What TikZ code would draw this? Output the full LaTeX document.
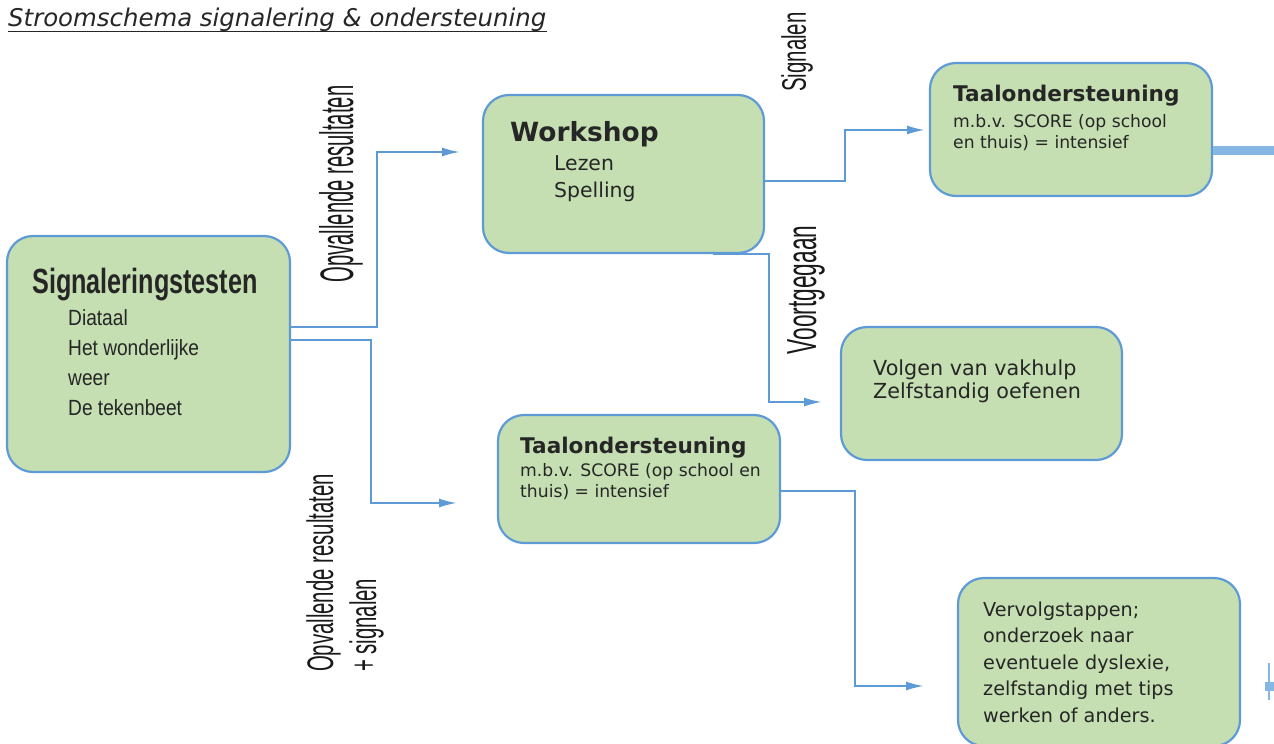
\documentclass[tikz,border=0pt]{standalone}
\usepackage{fontspec}
\usepackage{graphicx}
\setmainfont{DejaVu Sans}
\newfontfamily\myriad{Liberation Sans}
\usetikzlibrary{arrows.meta}

\definecolor{boxfill}{RGB}{197,223,178}
\definecolor{boxline}{RGB}{94,155,214}
\definecolor{stubblue}{RGB}{134,182,226}

\newcommand{\squeeze}[2]{\scalebox{#1}[1]{#2}}

\tikzset{
    box/.style={draw=boxline, line width=2.2pt, fill=boxfill, rounded corners=26pt, inner sep=0pt},
    boxtext/.style={anchor=base west, inner sep=0pt, align=left, text=black!85},
    flow/.style={draw=boxline, line width=2pt, -{Latex[length=18pt,width=9pt]}},
    stub/.style={draw=stubblue, line width=9pt},
    sidelabel/.style={rotate=90, inner sep=0pt, align=left, text=black!90}
}

\begin{document}
\begin{tikzpicture}[x=1pt,y=-1pt]

                \useasboundingbox (0,0) rectangle (1274,744);
                \clip (0,0) rectangle (1274,744);

                % title
                \node[boxtext, font=\fontsize{24.4}{28}\selectfont\itshape] (title) at (8,26)
                    {Stroomschema signalering \& ondersteuning};
                \draw[line width=1.6pt, black!85] ([yshift=-5.5pt]title.base west) -- ([yshift=-5.5pt]title.base east);

                % boxes: name/centre x/centre y/width/height
                \foreach \nm/\cx/\cy/\w/\h in {sig/148.5/354/283/236, ws/623.5/174/281/158,
                    ts/1071/129.5/282/133, tm/639/479/282/128, vg/981.5/393.5/281/133, vv/1099/662/282/168}
                {
                    \node[box, minimum width=\w pt, minimum height=\h pt] (\nm) at (\cx,\cy) {};
                }

                % box texts (multi-line texts sit on the baseline of their last line)
                \node[boxtext, font=\myriad\fontsize{35}{38}\selectfont\bfseries] (sigT) at (32,293)
                    {\squeeze{0.72}{Signaleringstesten}};
                \node[boxtext, font=\myriad\fontsize{22}{29.7}\selectfont] (sigL) at (68,415)
                    {\squeeze{0.87}{Diataal}\\\squeeze{0.87}{Het wonderlijke}\\\squeeze{0.87}{weer}\\\squeeze{0.87}{De tekenbeet}};

                \node[boxtext, font=\fontsize{26.4}{30}\selectfont\bfseries] (wsT) at (510,141) {Workshop};
                \node[boxtext, font=\fontsize{20.4}{27}\selectfont] (wsL) at (554,197) {Lezen\\Spelling};

                \node[boxtext, font=\fontsize{21.6}{24}\selectfont\bfseries] (tsT) at (953,101) {Taalondersteuning};
                \node[boxtext, font=\fontsize{17.2}{21}\selectfont] (tsL) at (953,148)
                    {m.b.v. SCORE (op school\\en thuis) = intensief};

                \node[boxtext, font=\fontsize{21.6}{24}\selectfont\bfseries] (tmT) at (520,453) {Taalondersteuning};
                \node[boxtext, font=\fontsize{17.2}{21}\selectfont] (tmL) at (520,497)
                    {m.b.v. SCORE (op school en\\thuis) = intensief};

                \node[boxtext, font=\fontsize{20.7}{23}\selectfont] (vgT) at (873,398)
                    {Volgen van vakhulp\\Zelfstandig oefenen};

                \node[boxtext, font=\fontsize{19.2}{26.5}\selectfont] (vvT) at (983,722)
                    {Vervolgstappen;\\onderzoek naar\\eventuele dyslexie,\\zelfstandig met tips\\werken of anders.};

                % side labels
                \node[sidelabel, font=\myriad\fontsize{47}{50}\selectfont] (lblRes) at (341,184)
                    {\squeeze{0.43}{Opvallende resultaten}};
                \node[sidelabel, font=\myriad\fontsize{34}{36}\selectfont] (lblSig) at (797,52)
                    {\squeeze{0.6}{Signalen}};
                \node[sidelabel, font=\myriad\fontsize{42}{44}\selectfont] (lblVoort) at (806,290)
                    {\squeeze{0.54}{Voortgegaan}};
                \node[sidelabel, font=\myriad\fontsize{37}{43}\selectfont] (lblResSig) at (345,573)
                    {\squeeze{0.55}{Opvallende resultaten}\\\squeeze{0.55}{+ signalen}};

                % free ends of the arrows
                \coordinate (wsIn) at (460,152);
                \coordinate (tmIn) at (457,503);
                \coordinate (tsIn) at (925,130);
                \coordinate (vgIn) at (822,402);
                \coordinate (vvIn) at (924,686);
                \coordinate (tsOut) at (1280,150.5);

                \draw[flow] (sig.east |- 0,327) -| (377,152) -- (wsIn);
                \draw[flow] (sig.east |- 0,340) -| (371,503) -- (tmIn);
                \draw[flow] (ws.east |- 0,181) -| (845,130) -- (tsIn);
                \draw[flow] (ws.south -| 713,0) -| (769,402) -- (vgIn);
                \draw[flow] (tm.east |- 0,491) -| (855,686) -- (vvIn);

                \draw[stub] (ts.east |- 0,150.5) -- (tsOut);
                \draw[stubblue, line width=2pt] (1269,663) -- (1269,700);
                \draw[stub] (1265,686) -- (1280,686);

            \end{tikzpicture}
\end{document}
